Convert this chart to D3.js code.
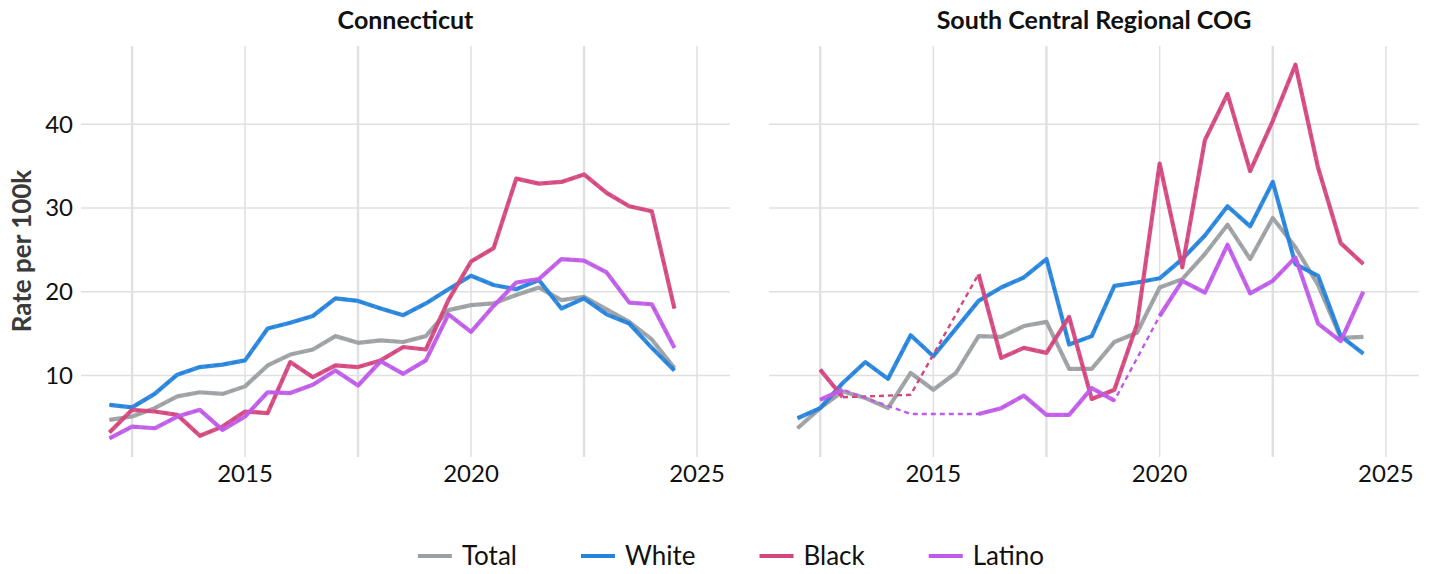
<!DOCTYPE html>
<html>
  <head>
    <meta charset="UTF-8">
    <title>Rate per 100k</title>
    <style>
    body {
      margin: 0;
      background: #fff;
    }
    svg text {
      font-family: Lato, "Open Sans", sans-serif;
    }
    .grid line {
      stroke: #e0e0e0;
    }
    .series {
      fill: none;
      stroke-linejoin: round;
      stroke-linecap: butt;
    }
    </style>
  </head>
  <body>
    <svg width="1429" height="574"></svg>
    <script src="https://cdn.jsdelivr.net/npm/d3@7"></script>
    <script>
// half-year periods
var years = [2012, 2012.5, 2013, 2013.5, 2014, 2014.5, 2015, 2015.5, 2016, 2016.5,
             2017, 2017.5, 2018, 2018.5, 2019, 2019.5, 2020, 2020.5, 2021, 2021.5,
             2022, 2022.5, 2023, 2023.5, 2024, 2024.5];

var groups = ["Total", "White", "Black", "Latino"];
var colors = ["#9c9fa3", "#2583dc", "#d4467e", "#c05ae8"];
var regions = ["Connecticut", "South Central Regional COG"];

// Connecticut
var ctTotal  = [4.7, 5.1, 6.1, 7.5, 8.0, 7.8, 8.7, 11.2, 12.5, 13.1, 14.7, 13.9, 14.2, 14.0, 14.7, 17.8, 18.4, 18.6, 19.6, 20.5, 19.0, 19.4, 17.9, 16.4, 14.3, 10.9];
var ctWhite  = [6.5, 6.2, 7.8, 10.1, 11.0, 11.3, 11.8, 15.6, 16.3, 17.1, 19.2, 18.9, 18.0, 17.2, 18.6, 20.3, 21.9, 20.8, 20.3, 21.4, 18.0, 19.2, 17.3, 16.2, 13.3, 10.6];
var ctBlack  = [3.2, 5.9, 5.7, 5.3, 2.8, 3.9, 5.7, 5.5, 11.6, 9.8, 11.2, 11.0, 11.8, 13.4, 13.1, 19.0, 23.6, 25.2, 33.5, 32.9, 33.1, 34.0, 31.8, 30.2, 29.6, 18.0];
var ctLatino = [2.5, 3.9, 3.7, 5.1, 5.9, 3.5, 5.1, 8.0, 7.9, 8.9, 10.6, 8.8, 11.7, 10.2, 11.8, 17.3, 15.2, 18.3, 21.1, 21.5, 23.9, 23.7, 22.3, 18.7, 18.5, 13.3];

// South Central Regional COG (null = suppressed period)
var scTotal  = [3.7, 6.1, 8.1, 7.3, 6.1, 10.3, 8.3, 10.3, 14.7, 14.6, 15.9, 16.4, 10.8, 10.8, 14.0, 15.1, 20.5, 21.5, 24.5, 28.0, 23.9, 28.8, 25.3, 20.8, 14.5, 14.6];
var scWhite  = [4.9, 6.1, 9.1, 11.6, 9.6, 14.8, 12.3, 15.6, 18.9, 20.5, 21.7, 23.9, 13.7, 14.7, 20.7, 21.1, 21.6, 23.9, 26.7, 30.2, 27.8, 33.1, 23.3, 21.9, 14.7, 12.6];
var scBlack  = [null, 10.7, 7.4, null, null, 7.7, null, null, 22.1, 12.1, 13.3, 12.7, 17.0, 7.2, 8.3, 16.1, 35.3, 22.9, 38.1, 43.6, 34.4, 40.4, 47.1, 34.8, 25.8, 23.3];
var scLatino = [null, 7.1, 8.3, null, null, 5.4, null, null, 5.4, 6.1, 7.6, 5.3, 5.3, 8.5, 7.0, null, 17.1, 21.3, 19.9, 25.6, 19.8, 21.3, 24.1, 16.2, 14.1, 20.0];

var xTicks = [2015, 2020, 2025];
var xMinor = [2012.5, 2017.5, 2022.5];
var yTicks = [10, 20, 30, 40];

var panelData = [
  [ctTotal, ctWhite, ctBlack, ctLatino],
  [scTotal, scWhite, scBlack, scLatino]
];

var svg = d3.select("svg"),
    plotTop = 46,
    plotBottom = 457,
    panels = [[81, 730], [769, 1419]];

// y domain with 5% padding like the original
var allVals = panelData.flat(2).filter(v => v != null),
    yMin = d3.min(allVals), yMax = d3.max(allVals),
    yPad = (yMax - yMin) * 0.05;
var y = d3.scaleLinear().domain([yMin - yPad, yMax + yPad]).range([plotBottom, plotTop]);

regions.forEach((name, p) => {
  var x = d3.scaleLinear().domain([2011.37, 2025.73]).range(panels[p]);
  var g = svg.append("g");

  // grid
  var grid = g.append("g").attr("class", "grid");
  grid.selectAll("line.h").data(yTicks).join("line")
      .attr("x1", panels[p][0]).attr("x2", panels[p][1])
      .attr("y1", d => y(d)).attr("y2", d => y(d))
      .attr("stroke-width", 1.5);
  grid.selectAll("line.vmaj").data(xTicks).join("line")
      .attr("x1", d => x(d)).attr("x2", d => x(d))
      .attr("y1", plotTop).attr("y2", plotBottom)
      .attr("stroke-width", 1.5);
  grid.selectAll("line.vmin").data(xMinor).join("line")
      .attr("x1", d => x(d)).attr("x2", d => x(d))
      .attr("y1", plotTop).attr("y2", plotBottom)
      .attr("stroke-width", 2.4);

  // x labels
  g.selectAll("text.xt").data(xTicks).join("text")
      .attr("x", d => x(d)).attr("y", 482)
      .attr("text-anchor", "middle")
      .attr("font-size", 24)
      .attr("fill", "#111")
      .text(d => d);

  // y labels on first panel only
  if (p === 0) {
    g.selectAll("text.yt").data(yTicks).join("text")
        .attr("x", 73).attr("y", d => y(d))
        .attr("dy", "0.35em")
        .attr("text-anchor", "end")
        .attr("font-size", 24)
        .attr("fill", "#111")
        .text(d => d);
  }

  // strip title
  g.append("text")
      .attr("x", (panels[p][0] + panels[p][1]) / 2).attr("y", 29)
      .attr("text-anchor", "middle")
      .attr("font-size", 25)
      .attr("font-weight", "bold")
      .attr("fill", "#111")
      .text(name);

  var solid = d3.line()
      .defined(d => d[1] != null)
      .x(d => x(d[0])).y(d => y(d[1]));
  var bridge = d3.line()
      .x(d => x(d[0])).y(d => y(d[1]));

  panelData[p].forEach((vals, i) => {
    var pts = years.map((yr, k) => [yr, vals[k]]);
    // thin dashed line joins across missing periods
    g.append("path")
        .attr("class", "series")
        .attr("d", bridge(pts.filter(d => d[1] != null)))
        .attr("stroke", colors[i])
        .attr("stroke-width", 2.4)
        .attr("stroke-dasharray", "5 4");
    g.append("path")
        .attr("class", "series")
        .attr("d", solid(pts))
        .attr("stroke", colors[i])
        .attr("stroke-opacity", 0.92)
        .attr("stroke-width", 4.2);
  });
});

// y axis title
svg.append("text")
    .attr("transform", "translate(31,251) rotate(-90)")
    .attr("text-anchor", "middle")
    .attr("font-size", 26)
    .attr("font-weight", "bold")
    .attr("fill", "#3a3a3a")
    .text("Rate per 100k");

// legend
var legend = svg.append("g");
var lx = 0;
groups.forEach((name, i) => {
  var item = legend.append("g").attr("transform", "translate(" + lx + ",0)");
  item.append("line")
      .attr("x1", 0).attr("x2", 34)
      .attr("y1", 0).attr("y2", 0)
      .attr("stroke", colors[i])
      .attr("stroke-width", 4.2);
  var t = item.append("text")
      .attr("x", 44).attr("dy", "0.35em")
      .attr("font-size", 26)
      .attr("fill", "#111")
      .text(name);
  lx += 44 + t.node().getComputedTextLength() + 64;
});
lx -= 64;
legend.attr("transform", "translate(" + (731 - lx / 2) + ",556)");
    </script>
  </body>
</html>
